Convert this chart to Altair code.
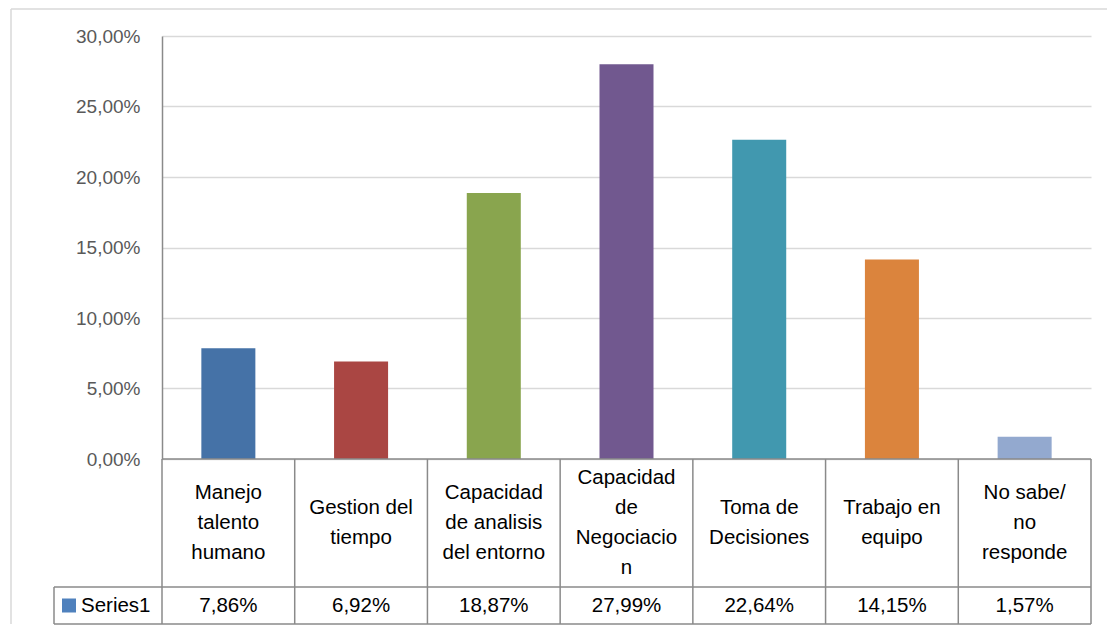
import altair as alt
import pandas as pd

categories = ["Manejo talento humano", "Gestion del tiempo", "Capacidad de analisis del entorno",
              "Capacidad de Negociacion", "Toma de Decisiones", "Trabajo en equipo", "No sabe/no responde"]
cell_labels = ["Manejo\ntalento\nhumano", "Gestion del\ntiempo", "Capacidad\nde analisis\ndel entorno",
               "Capacidad\nde\nNegociacio\nn", "Toma de\nDecisiones", "Trabajo en\nequipo", "No sabe/\nno\nresponde"]
values = [0.0786, 0.0692, 0.1887, 0.2799, 0.2264, 0.1415, 0.0157]
colors = ["#4572A7", "#AA4643", "#89A54E", "#71588F", "#4198AF", "#DB843D", "#93A9CF"]
series_name = "Series1"
y_ticks = [0, 0.05, 0.10, 0.15, 0.20, 0.25, 0.30]

df = pd.DataFrame({"cat": categories, "label": cell_labels, "value": values})
df["vtext"] = [f"{v*100:.2f}%".replace(".", ",") for v in values]
one = pd.DataFrame({"k": [series_name]})

FONT = "Liberation Sans"
LINE = "#8a8a8a"
PW, PH, TH = 929, 423, 165
ROW = 128
LH = 30

# ---------- top panel: bars ----------
xs = alt.X("cat:N", sort=categories,
           scale=alt.Scale(domain=categories, paddingInner=0.593, paddingOuter=0.2965), axis=None)
bars = alt.Chart(df).mark_bar().encode(
    x=xs,
    y=alt.Y("value:Q", scale=alt.Scale(domain=[0, 0.30], nice=False, zero=True),
            axis=alt.Axis(values=y_ticks, title=None, ticks=False, labelPadding=22,
                          labelFont=FONT, labelFontSize=19, labelColor="#595959",
                          labelExpr="replace(format(datum.value, '.2%'), '.', ',')",
                          domainColor=LINE, domainWidth=1.5,
                          grid=True, gridColor="#d9d9d9", gridWidth=1.5)),
    color=alt.Color("cat:N", scale=alt.Scale(domain=categories, range=colors), legend=None),
)
border_top = alt.Chart(one).mark_rule(color="#d9d9d9", strokeWidth=1.5).encode(
    x=alt.value(-151), x2=alt.value(945), y=alt.value(-27))
border_left = alt.Chart(one).mark_rule(color="#d9d9d9", strokeWidth=1.5).encode(
    x=alt.value(-151), y=alt.value(-27), y2=alt.value(588))
top = alt.layer(border_top, border_left, bars).properties(width=PW, height=PH)

# ---------- bottom panel: data table ----------
xb_scale = alt.Scale(domain=categories, paddingInner=0, paddingOuter=0)
vrules = alt.Chart(df).mark_rule(color=LINE, strokeWidth=1.5).encode(
    x=alt.X("cat:N", sort=categories, scale=xb_scale, bandPosition=0, axis=None),
    y=alt.value(0), y2=alt.value(TH))
right_rule = alt.Chart(one).mark_rule(color=LINE, strokeWidth=1.5).encode(
    x=alt.value(PW), y=alt.value(0), y2=alt.value(TH))
h0 = alt.Chart(one).mark_rule(color=LINE, strokeWidth=1.5).encode(
    x=alt.value(0), x2=alt.value(PW), y=alt.value(0))
h1 = alt.Chart(one).mark_rule(color=LINE, strokeWidth=1.5).encode(
    x=alt.value(-108), x2=alt.value(PW), y=alt.value(ROW))
h2 = alt.Chart(one).mark_rule(color=LINE, strokeWidth=1.5).encode(
    x=alt.value(-108), x2=alt.value(PW), y=alt.value(TH))
vl = alt.Chart(one).mark_rule(color=LINE, strokeWidth=1.5).encode(
    x=alt.value(-108), y=alt.value(ROW), y2=alt.value(TH))

cat_text = alt.Chart(df).transform_calculate(
    ypos=f"{ROW / 2} - (length(split(datum.label, '\\n')) - 1) * {LH / 2}"
).mark_text(font=FONT, fontSize=20.5, lineHeight=LH, lineBreak="\n",
            baseline="middle", align="center", color="#000000").encode(
    x=alt.X("cat:N", sort=categories, scale=xb_scale, axis=None),
    y=alt.Y("ypos:Q", scale=None, axis=None), text="label:N")
val_text = alt.Chart(df).mark_text(font=FONT, fontSize=20.5, baseline="middle", align="center",
                                   color="#000000").encode(
    x=alt.X("cat:N", sort=categories, scale=xb_scale, axis=None),
    y=alt.value((ROW + TH) / 2), text="vtext:N")
key = alt.Chart(one).mark_square(size=196, color="#4F81BD", opacity=1).encode(
    x=alt.value(-93), y=alt.value((ROW + TH) / 2))
key_text = alt.Chart(one).mark_text(font=FONT, fontSize=20.5, baseline="middle", align="left",
                                    color="#000000").encode(
    x=alt.value(-81), y=alt.value((ROW + TH) / 2), text="k:N")

bottom = alt.layer(vrules, right_rule, h0, h1, h2, vl, cat_text, val_text, key, key_text).properties(
    width=PW, height=TH)

chart = alt.vconcat(top, bottom, spacing=0, bounds="flush").properties(
    padding={"left": 2, "top": 0, "right": 0, "bottom": 0}
).configure_view(strokeWidth=0)

chart.save("out.html", embed_options={"renderer": "svg", "actions": False})
